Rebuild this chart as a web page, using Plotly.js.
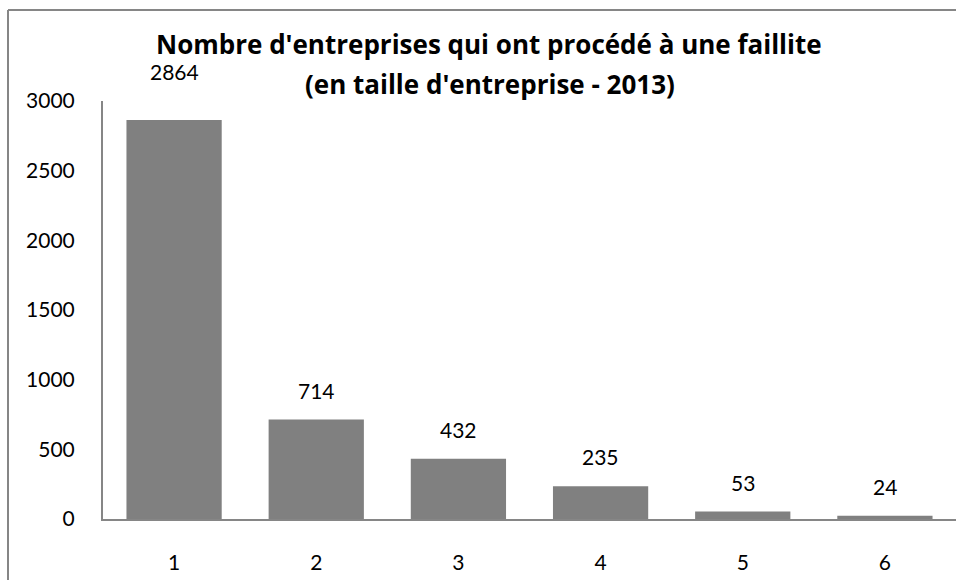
<!DOCTYPE html>
<html>
<head>
<meta charset="utf-8">
<script src="https://cdn.plot.ly/plotly-3.0.1.min.js"></script>
<style>html,body{margin:0;padding:0;background:#fff;}#chart{width:956px;height:580px;}</style>
</head>
<body>
<div id="chart"></div>
<script>
const categories = ["1", "2", "3", "4", "5", "6"];
const values = [2864, 714, 432, 235, 53, 24];
const titleLine1 = "Nombre d'entreprises qui ont procédé à une faillite";
const titleLine2 = "(en taille d'entreprise - 2013)";

const W = 956, H = 580, L = 103, R = 0, T = 101, B = 61;
const pw = W - L - R, ph = H - T - B;
const px = x => (x - L) / pw;
const py = y => (H - B - y) / ph;
const FONT = "Lato, 'Open Sans', sans-serif";
const TFONT = "'Open Sans', Lato, sans-serif";

const trace = {
  type: 'bar',
  x: categories,
  y: values,
  marker: {color: '#808080', line: {width: 0}},
  hoverinfo: 'none'
};

const labelAnn = categories.map((c, i) => ({
  x: i, y: values[i], xref: 'x', yref: 'y',
  text: String(values[i]), showarrow: false,
  yanchor: 'bottom', yshift: i === 0 ? 35 : 16, borderpad: 0,
  font: {family: FONT, size: 21, color: '#000'}
}));

const layout = {
  width: W, height: H,
  margin: {l: L, r: R, t: T, b: B, pad: 0},
  paper_bgcolor: '#fff', plot_bgcolor: '#fff',
  showlegend: false,
  bargap: 0.33,
  font: {family: FONT, size: 21, color: '#000'},
  xaxis: {
    type: 'category', range: [-0.5, categories.length - 0.5], autorange: false,
    showline: true, linecolor: '#868686', linewidth: 2,
    ticks: '', showgrid: false, zeroline: false,
    ticklabelstandoff: 24,
    tickfont: {family: FONT, size: 21, color: '#000'}
  },
  yaxis: {
    range: [0, 3000], autorange: false, tickvals: [0, 500, 1000, 1500, 2000, 2500, 3000],
    showline: true, linecolor: '#868686', linewidth: 2,
    ticks: '', showgrid: false, zeroline: false,
    ticklabelstandoff: 22,
    tickfont: {family: FONT, size: 21, color: '#000'}
  },
  annotations: [
    {xref: 'paper', yref: 'paper', x: px(489), y: py(44), text: '<b>' + titleLine1 + '</b>', showarrow: false,
     xanchor: 'center', yanchor: 'middle', borderpad: 0, font: {family: TFONT, size: 26, color: '#000'}},
    {xref: 'paper', yref: 'paper', x: px(490), y: py(84), text: '<b>' + titleLine2 + '</b>', showarrow: false,
     xanchor: 'center', yanchor: 'middle', borderpad: 0, font: {family: TFONT, size: 26, color: '#000'}}
  ].concat(labelAnn),
  shapes: [
    {type: 'line', xref: 'paper', yref: 'paper', x0: px(8), x1: px(8), y0: py(10), y1: py(590), line: {color: '#868686', width: 2}},
    {type: 'line', xref: 'paper', yref: 'paper', x0: px(8), x1: px(970), y0: py(10), y1: py(10), line: {color: '#868686', width: 2}}
  ]
};

Plotly.newPlot('chart', [trace], layout, {staticPlot: true, displayModeBar: false});
</script>
</body>
</html>
